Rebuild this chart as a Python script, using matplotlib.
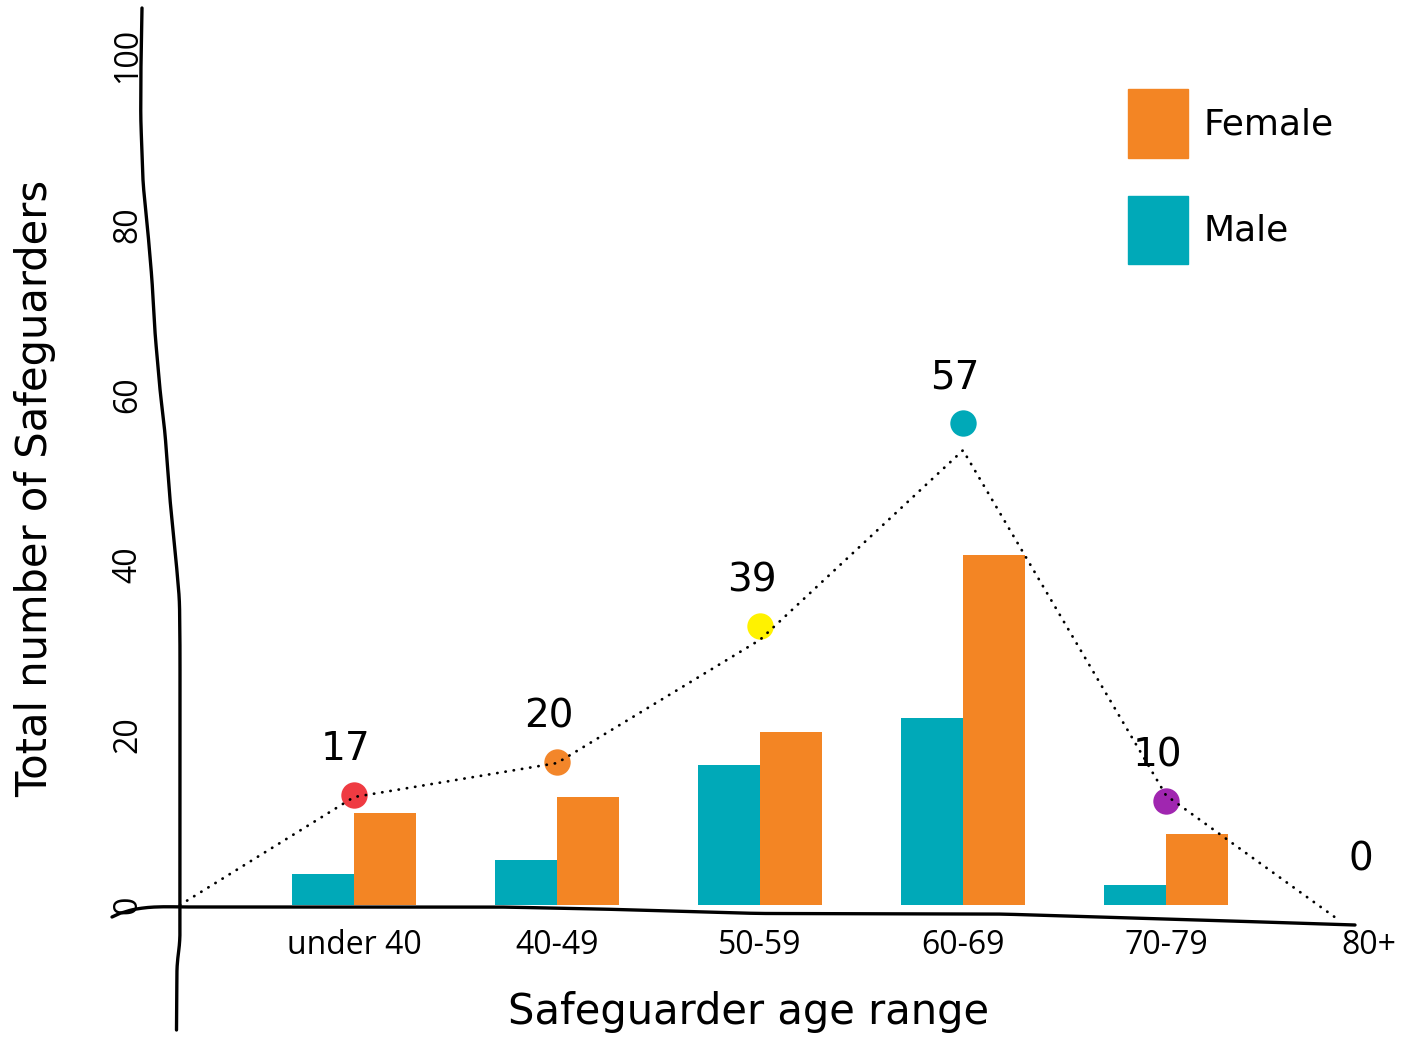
import numpy as np
import matplotlib.pyplot as plt
from matplotlib.lines import Line2D

# data
ages = ["under 40", "40-49", "50-59", "60-69", "70-79", "80+"]
male = [3.7, 5.3, 16.5, 22.0, 2.3, 0]
female = [10.8, 12.7, 20.3, 41.2, 8.3, 0]
totals = [17, 20, 39, 57, 10, 0]
dot_height = [13.0, 16.8, 32.8, 56.7, 12.2]
dot_colors = ["#ef3b42", "#f3862a", "#fff200", "#00a9b8", "#a026b0"]
trend = [12.7, 16.7, 31.2, 53.5, 12.9, -1.4]
yticks = [0, 20, 40, 60, 80, 100]

MALE_C = "#00a9b8"
FEMALE_C = "#f38524"
HAND = ["DejaVu Sans"]
PLAIN = ["Open Sans", "DejaVu Sans"]

W, H = 1419, 1037
fig = plt.figure(figsize=(W / 100, H / 100), dpi=100)
ax = fig.add_axes([140 / W, (H - 905) / H, 1279 / W, 850 / H])

x = list(range(len(ages)))
bw = 0.305
ax.bar([i - bw / 2 for i in x], male, bw, color=MALE_C, label="Male")
ax.bar([i + bw / 2 for i in x], female, bw, color=FEMALE_C, label="Female")

# dotted trend line from the origin
origin_x = (180 - 354) / 203
tx = [origin_x] + x[:-1] + [x[-1] - 0.17]
ax.plot(tx, [0] + trend, ls=(0, (0.1, 2.9)), dash_capstyle="round", color="black",
        lw=2.0, clip_on=False, zorder=3)

for i, (h, c) in enumerate(zip(dot_height, dot_colors)):
    ax.plot(i, h, "o", ms=19, color=c, mec="none", zorder=2, clip_on=False)

for i, t in enumerate(totals):
    base = dot_height[i] if i < len(dot_height) else t
    ax.annotate(str(t), (i, base), xytext=(-6, 19), textcoords="offset points",
                ha="center", va="bottom", fontsize=28, family=HAND)

ax.set_xlim((140 - 354) / 203, (1419 - 354) / 203)
ax.set_ylim(0, 100)
ax.set_xticks(x)
ax.set_xticklabels(ages, fontsize=23, family=PLAIN)
ax.set_yticks(yticks)
ax.set_yticklabels([str(v) for v in yticks], fontsize=23, family=PLAIN,
                   rotation=90, va="center")
ax.tick_params(axis="x", length=0, pad=17)
ax.tick_params(axis="y", length=0, pad=-3)
for s in ax.spines.values():
    s.set_visible(False)

# hand drawn axes (smoothed through a few sketch points, figure pixels)
yaxis_px = [(142, 8), (141, 60), (140.7, 117), (143, 183), (148, 233), (152, 280),
            (155, 333), (160, 390), (165, 433), (170, 500), (176, 560), (179.5, 600),
            (180, 650), (180, 940), (179, 950), (177, 962), (176.5, 1030)]
xaxis_px = [(112, 917), (125, 911), (140, 908), (160, 906.5), (180, 907), (500, 907),
            (600, 909), (700, 912), (760, 913.5), (1000, 914), (1100, 917),
            (1200, 920), (1355, 925)]
for pts in (yaxis_px, xaxis_px):
    px = np.array(pts, dtype=float)
    t = np.r_[0, np.cumsum(np.hypot(*np.diff(px, axis=0).T))]
    ts = np.linspace(0, t[-1], 400)
    xs = np.interp(ts, t, px[:, 0])
    ys = np.interp(ts, t, px[:, 1])
    k = np.ones(9) / 9
    xs = np.r_[xs[:4], np.convolve(xs, k, mode="valid"), xs[-4:]]
    ys = np.r_[ys[:4], np.convolve(ys, k, mode="valid"), ys[-4:]]
    fig.add_artist(Line2D(xs / W, 1 - ys / H, color="black", lw=2.4,
                          solid_capstyle="round", transform=fig.transFigure))

# legend
ax.legend(handles=[plt.Rectangle((0, 0), 1, 1, color=FEMALE_C),
                   plt.Rectangle((0, 0), 1, 1, color=MALE_C)],
          labels=["Female", "Male"], loc="upper left", bbox_to_anchor=(1128 / W, 1 - 89 / H),
          bbox_transform=fig.transFigure, frameon=False, borderpad=0, borderaxespad=0,
          handlelength=1.65, handleheight=2.55, labelspacing=1.05, handletextpad=0.45,
          prop={"family": HAND, "size": 26})

fig.text(35 / W, 1 - 488 / H, "Total number of Safeguarders", rotation=90,
         ha="center", va="center", fontsize=30, family=HAND)
fig.text(749 / W, 1 - 1012 / H, "Safeguarder age range", ha="center", va="center",
         fontsize=30, family=HAND)

fig.savefig("out.png", dpi=100)
